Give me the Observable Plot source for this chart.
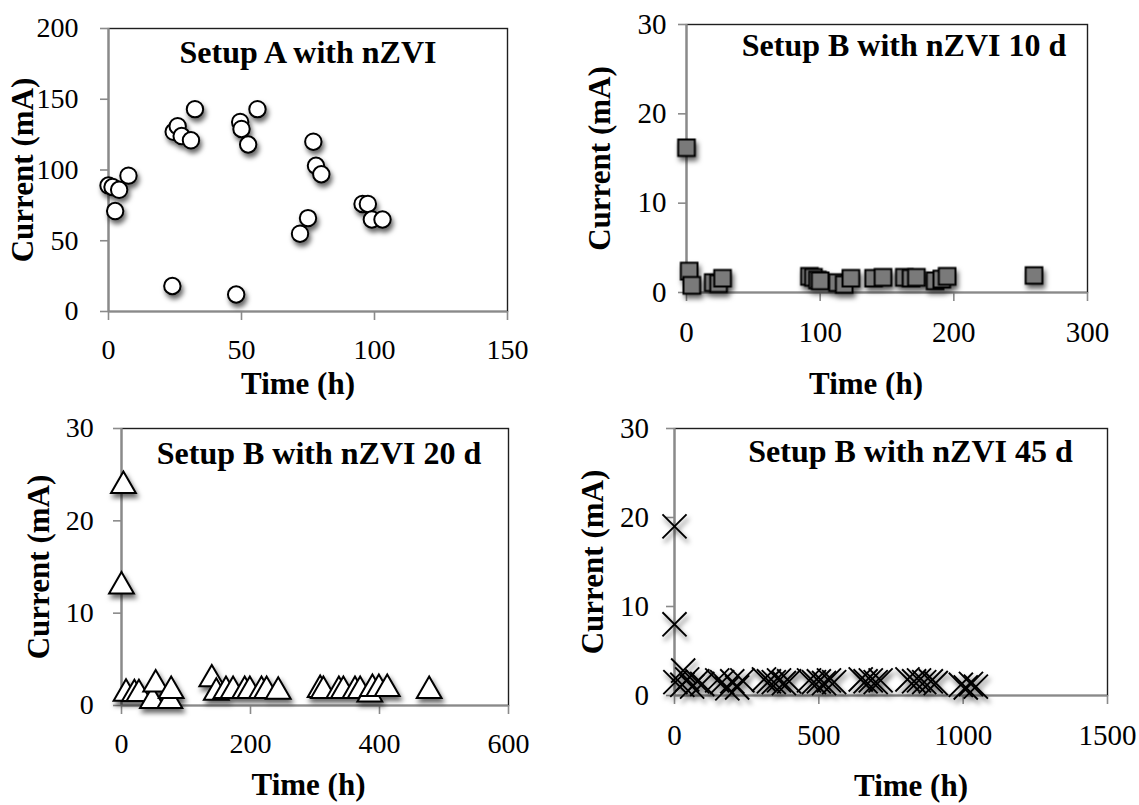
<!DOCTYPE html>
<html>
<head>
<meta charset="utf-8">
<script src="https://cdn.jsdelivr.net/npm/d3@7"></script>
<script src="https://cdn.jsdelivr.net/npm/@observablehq/plot@0.6"></script>
<style>
html, body { margin: 0; padding: 0; background: #fff; }
#wrap { position: relative; width: 1139px; height: 805px; overflow: hidden; background: #fff; }
.panel { position: absolute; }
.panel svg { display: block; overflow: visible; }
.panel g[aria-label="dot"] { filter: url(#shadow); }
</style>
</head>
<body>
<svg width="0" height="0" style="position:absolute">
  <defs>
    <filter id="shadow" x="-50%" y="-50%" width="200%" height="200%">
      <feDropShadow dx="2" dy="4" stdDeviation="2.5" flood-color="#000" flood-opacity="0.6"/>
    </filter>
  </defs>
</svg>
<div id="wrap"></div>
<script>
// ---------- Data ----------
// Setup A with nZVI
const timeA    = [0, 1.5, 2.5, 4, 7.5, 24, 24.5, 26, 27.5, 31, 32.5, 48, 49.5, 50, 52.5, 56, 72, 75, 77, 78, 80, 95.5, 97.5, 99, 103];
const currentA = [89, 88, 71, 86, 96, 18, 127, 131, 124, 121, 143, 12, 134, 129, 118, 143, 55, 66, 120, 103, 97, 76, 76, 65, 65];

// Setup B with nZVI 10 d
const timeB10    = [0, 2, 4, 20, 24, 27, 92, 95, 98, 100, 113, 118, 123, 140, 147, 163, 168, 172, 186, 191, 195, 260];
const currentB10 = [16.2, 2.4, 0.8, 1.1, 1.0, 1.6, 1.8, 1.7, 1.4, 1.3, 1.1, 0.9, 1.6, 1.6, 1.7, 1.7, 1.6, 1.7, 1.3, 1.5, 1.8, 1.9];

// Setup B with nZVI 20 d
const timeB20    = [3, 0, 7, 20, 27, 48, 53, 75, 77, 140, 147, 162, 173, 191, 199, 217, 225, 243, 308, 313, 337, 344, 362, 370, 385, 389, 399, 412, 477];
const currentB20 = [23.8, 12.9, 1.3, 1.25, 1.25, 0.5, 2.3, 0.5, 1.6, 2.85, 1.4, 1.6, 1.6, 1.6, 1.6, 1.6, 1.6, 1.5, 1.7, 1.6, 1.6, 1.6, 1.6, 1.6, 1.2, 1.8, 1.8, 1.8, 1.6];

// Setup B with nZVI 45 d
const timeB45    = [0, 0, 3, 30, 27, 44, 61, 79, 96, 148, 165, 183, 200, 217, 235, 310, 327, 344, 362, 379, 397, 466, 483, 500, 518, 535, 553, 645, 662, 680, 697, 714, 807, 830, 847, 865, 888, 905, 992, 1009, 1027, 1044];
const currentB45 = [19, 8, 1.5, 2.8, 1.2, 1.8, 1.0, 1.6, 1.3, 1.7, 1.5, 0.8, 1.6, 0.9, 1.7, 1.8, 1.6, 1.5, 1.7, 1.4, 1.6, 1.7, 1.5, 1.6, 1.4, 1.7, 1.5, 1.8, 1.6, 1.7, 1.5, 1.7, 1.8, 1.6, 1.7, 1.5, 1.6, 1.4, 1.2, 0.9, 1.3, 1.0];

// Tick values
const ticksXA = [0, 50, 100, 150],   ticksYA = [0, 50, 100, 150, 200];
const ticksXB10 = [0, 100, 200, 300], ticksYB = [0, 10, 20, 30];
const ticksXB20 = [0, 200, 400, 600];
const ticksXB45 = [0, 500, 1000, 1500];

const titles = ["Setup A with nZVI", "Setup B with nZVI 10 d", "Setup B with nZVI 20 d", "Setup B with nZVI 45 d"];
const xLabel = "Time (h)";
const yLabel = "Current (mA)";

// ---------- Drawing ----------
const FONT = "Liberation Serif, Times New Roman, serif";
const AXIS_GRAY = "#8a8a8a";

function panel(o) {
  const data = o.xs.map((x, i) => ({x, y: o.ys[i]}));
  const svg = Plot.plot({
    width: o.width, height: o.height,
    marginLeft: o.mL, marginRight: o.mR, marginTop: o.mT, marginBottom: o.mB,
    style: {fontFamily: FONT, fontSize: "28px", color: "black", background: "white", overflow: "visible"},
    x: {domain: o.xDomain},
    y: {domain: o.yDomain},
    marks: [
      Plot.frame({stroke: "#1e1e1e", strokeWidth: 1.4}),
      Plot.ruleX([o.xDomain[0]], {stroke: AXIS_GRAY, strokeWidth: 2.2}),
      Plot.ruleY([o.yDomain[0]], {stroke: AXIS_GRAY, strokeWidth: 2.2}),
      Plot.axisX({ticks: o.xTicks, tickSize: 9, tickPadding: o.xPad, stroke: AXIS_GRAY, strokeWidth: 1.6,
                  fill: "black", fontSize: o.fs, fontFamily: FONT, label: null, tickFormat: d => String(d)}),
      Plot.axisY({ticks: o.yTicks, tickSize: 8, tickPadding: o.yPad, stroke: AXIS_GRAY, strokeWidth: 1.6,
                  fill: "black", fontSize: o.fs, fontFamily: FONT, label: null, tickFormat: d => String(d)}),
      Plot.dot(data, {x: "x", y: "y", ...o.dot}),
      Plot.text([o.title], {text: d => d, frameAnchor: "top", textAnchor: "middle", lineAnchor: "bottom",
                  dx: o.tDx, dy: o.tDy, fontSize: 32, fontWeight: "bold", fontFamily: FONT, fill: "black"}),
      Plot.text([xLabel], {text: d => d, frameAnchor: "bottom", textAnchor: "middle", lineAnchor: "bottom",
                  dx: o.xlDx, dy: o.xlDy, fontSize: 31, fontWeight: "bold", fontFamily: FONT, fill: "black"}),
      Plot.text([yLabel], {text: d => d, frameAnchor: "left", textAnchor: "middle", lineAnchor: "bottom",
                  rotate: -90, dx: o.ylDx, fontSize: 31, fontWeight: "bold", fontFamily: FONT, fill: "black"})
    ]
  });
  const div = document.createElement("div");
  div.className = "panel";
  div.style.left = o.left + "px";
  div.style.top = o.top + "px";
  div.appendChild(svg);
  document.getElementById("wrap").appendChild(div);
}

panel({
  left: 0, top: 0, width: 560, height: 400, mL: 108, mR: 53, mT: 28, mB: 89, fs: 28,
  xDomain: [0, 150], yDomain: [0, 200], xTicks: ticksXA, yTicks: ticksYA,
  xs: timeA, ys: currentA, xPad: 18.7, yPad: 22,
  dot: {symbol: "circle", r: 8.2, fill: "white", stroke: "black", strokeWidth: 2},
  title: titles[0], tDx: 0, tDy: 34, xlDx: -10, xlDy: 82, ylDx: -75.5
});

panel({
  left: 570, top: 0, width: 569, height: 400, mL: 116, mR: 52, mT: 24, mB: 108, fs: 29,
  xDomain: [0, 300], yDomain: [0, 30], xTicks: ticksXB10, yTicks: ticksYB,
  xs: timeB10, ys: currentB10, xPad: 20, yPad: 12,
  dot: {symbol: "square", r: 9.4, fill: "#7a7a7a", stroke: "black", strokeWidth: 2},
  title: titles[1], tDx: 17, tDy: 31, xlDx: -21, xlDy: 101, ylDx: -77
});

panel({
  left: 0, top: 400, width: 560, height: 405, mL: 121, mR: 52, mT: 28, mB: 100, fs: 28,
  xDomain: [0, 600], yDomain: [0, 30], xTicks: ticksXB20, yTicks: ticksYB,
  xs: timeB20, ys: currentB20, xPad: 19, yPad: 19.7,
  dot: {symbol: "triangle", r: 9.2, fill: "white", stroke: "black", strokeWidth: 2},
  title: titles[2], tDx: 4, tDy: 35, xlDx: -6.5, xlDy: 89, ylDx: -73
});

panel({
  left: 570, top: 400, width: 569, height: 405, mL: 104, mR: 32, mT: 28, mB: 110, fs: 29,
  xDomain: [0, 1500], yDomain: [0, 30], xTicks: ticksXB45, yTicks: ticksYB,
  xs: timeB45, ys: currentB45, xPad: 20, yPad: 17.6,
  dot: {symbol: "times", r: 11, fill: "none", stroke: "black", strokeWidth: 1.9},
  title: titles[3], tDx: 19.5, tDy: 33.7, xlDx: 20, xlDy: 100, ylDx: -72
});
</script>
</body>
</html>
